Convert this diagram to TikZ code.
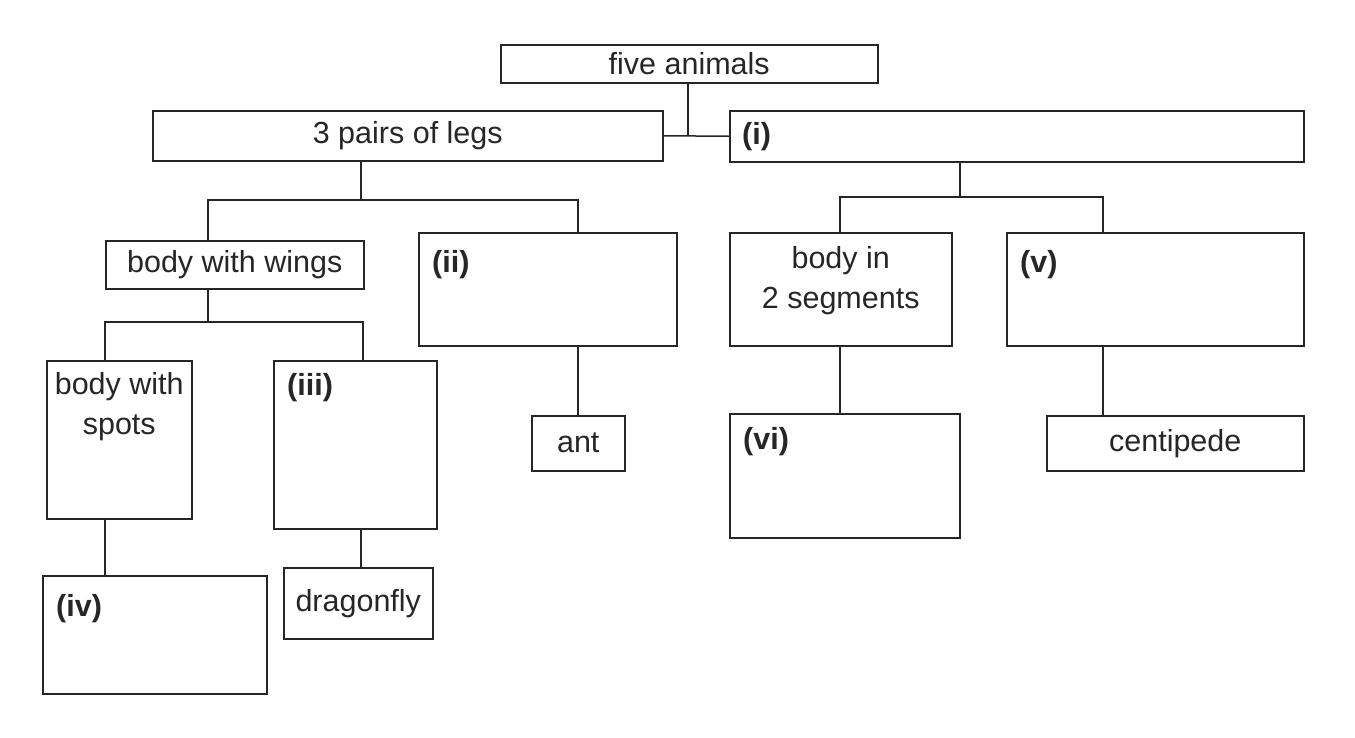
\documentclass[tikz,border=0pt]{standalone}
\usepackage{fontspec}
\setmainfont{Liberation Sans}
\newcommand\diafs{\fontsize{30.5}{40}\selectfont}
\tikzset{
  x=1pt, y=-1pt,
  box/.style={draw=black!85, line width=1.5pt, rectangle, inner sep=0pt, anchor=north west, font=\diafs, text=black!85},
  lab/.style={font=\diafs\bfseries, inner sep=0pt, anchor=north west, text=black!85},
  txt/.style={font=\diafs, inner sep=0pt, anchor=north, align=center, text=black!85},
  wire/.style={draw=black!85, line width=1.5pt},
}
\begin{document}
\begin{tikzpicture}
\useasboundingbox (0,0) rectangle (1355,737);
% boxes
\node[box, minimum width=377pt, minimum height=38pt] (fa) at (500,44) {five animals};
\node[box, minimum width=510pt, minimum height=50pt] (legs) at (152,110) {3 pairs of legs};
\node[box, minimum width=574pt, minimum height=51pt] (i) at (729,110) {};
\node[box, minimum width=258pt, minimum height=48pt] (bww) at (105,240) {body with wings};
\node[box, minimum width=258pt, minimum height=113pt] (ii) at (418,232) {};
\node[box, minimum width=222pt, minimum height=113pt] (b2s) at (729,232) {};
\node[box, minimum width=297pt, minimum height=113pt] (v) at (1006,232) {};
\node[box, minimum width=145pt, minimum height=158pt] (bws) at (46,360) {};
\node[box, minimum width=163pt, minimum height=168pt] (iii) at (273,360) {};
\node[box, minimum width=93pt, minimum height=55pt] (ant) at (531,415) {ant};
\node[box, minimum width=230pt, minimum height=124pt] (vi) at (729,413) {};
\node[box, minimum width=257pt, minimum height=55pt] (cent) at (1046,415) {centipede};
\node[box, minimum width=224pt, minimum height=118pt] (iv) at (42,575) {};
\node[box, minimum width=149pt, minimum height=71pt] (dfly) at (283,567) {dragonfly};
% labels
\node[lab, anchor=west] (ti) at ([xshift=13pt]i.west) {(i)};
\node[lab] (tii) at ([shift={(14pt,-18pt)}]ii.north west) {(ii)};
\node[lab] (tiii) at ([shift={(14pt,-13pt)}]iii.north west) {(iii)};
\node[lab] (tiv) at ([shift={(14pt,-19pt)}]iv.north west) {(iv)};
\node[lab] (tv) at ([shift={(14pt,-18pt)}]v.north west) {(v)};
\node[lab] (tvi) at ([shift={(14pt,-14pt)}]vi.north west) {(vi)};
\node[txt] (tb2s) at ([yshift=-14pt]b2s.north) {body in\\2 segments};
\node[txt] (tbws) at ([yshift=-12pt]bws.north) {body with\\spots};
% junction coordinates
\coordinate (jt) at (688,135);
\coordinate (jl) at (361,200);
\coordinate (jr) at (960,197);
\coordinate (jw) at (208,322);
% connectors
\draw[wire] (legs.east) -- (i.west);
\draw[wire] (fa.south -| jt) -- (legs.east -| jt);
\draw[wire] (legs.south -| jl) -- (jl);
\draw[wire] (bww.north -| 208,0) |- (jl) -| (ii.north -| 578,0);
\draw[wire] (i.south -| jr) -- (jr);
\draw[wire] (b2s.north -| 840,0) |- (jr) -| (v.north -| 1103,0);
\draw[wire] (bww.south -| jw) -- (jw);
\draw[wire] (bws.north -| 105,0) |- (jw) -| (iii.north -| 363,0);
\draw[wire] (bws.south -| 105,0) -- (iv.north -| 105,0);
\draw[wire] (iii.south -| 361,0) -- (dfly.north -| 361,0);
\draw[wire] (ii.south -| 578,0) -- (ant.north -| 578,0);
\draw[wire] (b2s.south -| 840,0) -- (vi.north -| 840,0);
\draw[wire] (v.south -| 1103,0) -- (cent.north -| 1103,0);
\end{tikzpicture}
\end{document}
